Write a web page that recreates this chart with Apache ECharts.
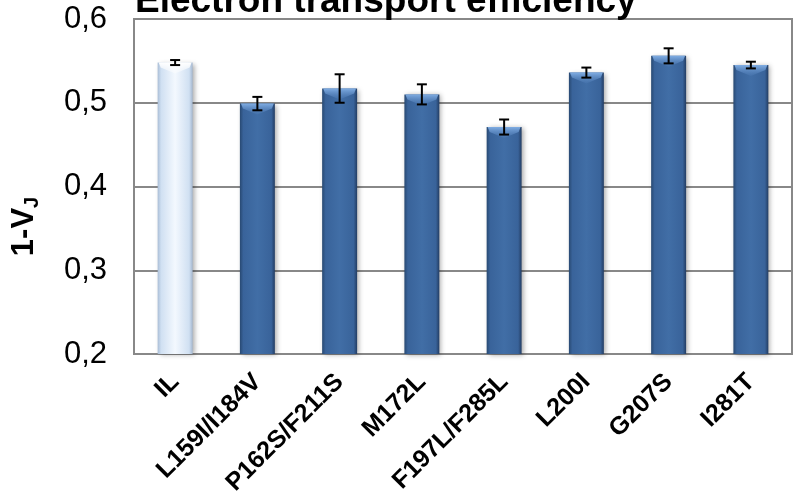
<!DOCTYPE html>
<html>
<head>
<meta charset="utf-8">
<script src="https://cdn.jsdelivr.net/npm/echarts@6/dist/echarts.min.js"></script>
<style>
  html, body { margin: 0; padding: 0; background: #fff; }
  #chart { width: 795px; height: 491px; }
</style>
</head>
<body>
<div id="chart"></div>
<script>
// Mutant lines on the x axis
const categories = ['IL', 'L159I/I184V', 'P162S/F211S', 'M172L', 'F197L/F285L', 'L200I', 'G207S', 'I281T'];
// Mean 1-VJ per line
const values = [0.548, 0.499, 0.517, 0.510, 0.471, 0.536, 0.556, 0.545];
// Error bar half-lengths
const errors = [0.003, 0.008, 0.017, 0.012, 0.009, 0.006, 0.009, 0.004];
// Y axis range and steps
const yMin = 0.2, yMax = 0.6, yStep = 0.1;

const FONT = 'Liberation Sans, Arial, sans-serif';

function barGradient(light) {
  return light
    ? new echarts.graphic.LinearGradient(0, 0, 1, 0, [
        { offset: 0, color: '#A9BDD6' },
        { offset: 0.1, color: '#D0E0F2' },
        { offset: 0.5, color: '#F3F8FE' },
        { offset: 0.9, color: '#D0E0F2' },
        { offset: 1, color: '#A3B6CF' }
      ])
    : new echarts.graphic.LinearGradient(0, 0, 1, 0, [
        { offset: 0, color: '#284972' },
        { offset: 0.1, color: '#39639A' },
        { offset: 0.5, color: '#416EA6' },
        { offset: 0.9, color: '#39639A' },
        { offset: 1, color: '#233D63' }
      ]);
}

function renderBar(params, api) {
  const idx = api.value(0);
  const v = api.value(1);
  const top = api.coord([idx, v]);
  const base = api.coord([idx, yMin]);
  const w = api.size([1, 0])[0] * 0.425;
  const x0 = top[0] - w / 2, x1 = top[0] + w / 2;
  const light = idx === 0;
  const h = base[1] - top[1];
  return {
    type: 'group',
    children: [
      {
        type: 'rect',
        shape: { x: x0, y: top[1], width: w, height: h },
        style: {
          fill: barGradient(light),
          shadowBlur: 5, shadowOffsetX: 2, shadowOffsetY: 1,
          shadowColor: 'rgba(0,0,0,0.35)'
        }
      },
      {
        type: 'polygon',
        shape: {
          points: [
            [x0 + 1, top[1]], [x1 - 1, top[1]], [x1 - 3, top[1] + 5],
            [top[0], top[1] + 11], [x0 + 3, top[1] + 5]
          ]
        },
        style: {
          fill: new echarts.graphic.LinearGradient(0, 0, 0, 1, light
            ? [{ offset: 0, color: '#FFFFFF' }, { offset: 1, color: 'rgba(255,255,255,0.3)' }]
            : [{ offset: 0, color: '#80ADE3' }, { offset: 1, color: 'rgba(75,120,178,0.4)' }])
        }
      }
    ]
  };
}

function renderError(params, api) {
  const idx = api.value(0);
  const hi = api.coord([idx, api.value(2)]);
  const lo = api.coord([idx, api.value(1)]);
  const cap = 5;
  const style = { stroke: '#000', lineWidth: 2 };
  return {
    type: 'group',
    children: [
      { type: 'line', shape: { x1: hi[0], y1: hi[1], x2: lo[0], y2: lo[1] }, style },
      { type: 'line', shape: { x1: hi[0] - cap, y1: hi[1], x2: hi[0] + cap, y2: hi[1] }, style },
      { type: 'line', shape: { x1: lo[0] - cap, y1: lo[1], x2: lo[0] + cap, y2: lo[1] }, style }
    ]
  };
}

const barData = values.map((v, i) => [i, v]);
const errData = values.map((v, i) => [i, v - errors[i], v + errors[i]]);

const chart = echarts.init(document.getElementById('chart'), null, { renderer: 'canvas' });
chart.setOption({
  animation: false,
  backgroundColor: '#fff',
  title: {
    text: 'Electron transport efficiency',
    left: 135,
    top: -17,
    padding: 0,
    textStyle: { fontFamily: FONT, fontWeight: 'bold', fontSize: 37, color: '#000' }
  },
  grid: {
    left: 134, right: 3, top: 19, bottom: 137,
    outerBoundsMode: 'none',
    containLabel: false,
    show: true, borderColor: '#888', borderWidth: 2, backgroundColor: 'transparent'
  },
  xAxis: {
    type: 'category',
    data: categories,
    axisTick: { show: false },
    axisLine: { lineStyle: { color: '#888', width: 2 } },
    axisLabel: {
      interval: 0, rotate: 45, margin: 24,
      fontFamily: FONT, fontWeight: 'bold', fontSize: 25, color: '#000'
    }
  },
  yAxis: {
    type: 'value',
    min: yMin, max: yMax, interval: yStep,
    name: '{m|1-V}{s|J}',
    nameLocation: 'middle',
    nameRotate: 90,
    nameGap: 92,
    nameTextStyle: {
      padding: [0, 80, 0, 0],
      rich: {
        m: { fontFamily: FONT, fontWeight: 'bold', fontSize: 31, color: '#000' },
        s: { fontFamily: FONT, fontWeight: 'bold', fontSize: 20, color: '#000', verticalAlign: 'bottom', padding: [15, 0, 0, 0] }
      }
    },
    axisLine: { show: true, lineStyle: { color: '#888', width: 2 } },
    axisTick: { show: false },
    splitLine: { lineStyle: { color: '#888', width: 2 } },
    axisLabel: {
      margin: 27,
      fontFamily: FONT, fontSize: 31, color: '#000',
      formatter: v => v.toFixed(1).replace('.', ',')
    }
  },
  series: [
    {
      type: 'custom',
      renderItem: renderBar,
      data: barData,
      encode: { x: 0, y: 1 },
      z: 2
    },
    {
      type: 'custom',
      renderItem: renderError,
      data: errData,
      encode: { x: 0, y: [1, 2] },
      z: 3
    }
  ]
});
</script>
</body>
</html>
